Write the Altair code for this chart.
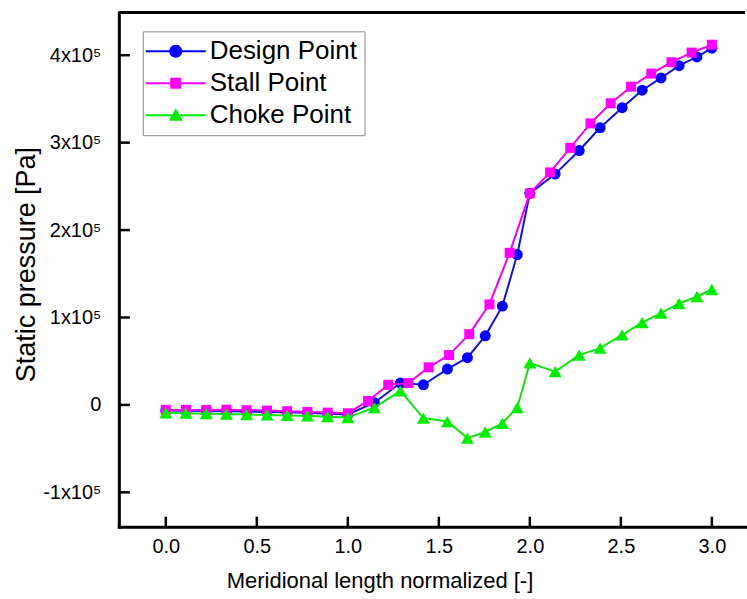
import altair as alt
import pandas as pd

FONT = "Liberation Sans"

# Operating points, their colours and marker shapes
series_names = ["Design Point", "Stall Point", "Choke Point"]
series_colors = ["#0000ff", "#ff00ff", "#00ee00"]
line_colors = ["#1414cc", "#f000f0", "#14e014"]
series_shapes = ["circle", "square", "triangle-up"]
series_sizes = [121, 100, 170]

# Normalized meridional position and static pressure [Pa]
design_x = [0.0, 0.111, 0.222, 0.333, 0.444, 0.556, 0.667, 0.778, 0.889, 1.0,
            1.146, 1.289, 1.415, 1.547, 1.657, 1.755, 1.849, 1.931, 2.0,
            2.139, 2.271, 2.386, 2.507, 2.617, 2.721, 2.820, 2.918, 3.0]
design_p = [-6500, -6700, -7000, -7200, -7500, -8000, -8500, -9000, -10000, -11000,
            2500, 25000, 23000, 41000, 54000, 79000, 113000, 172000, 242000,
            264000, 291000, 317000, 340000, 360000, 374000, 388000, 398000, 408000]

stall_x = [0.0, 0.111, 0.222, 0.333, 0.444, 0.556, 0.667, 0.778, 0.889, 1.0,
           1.111, 1.222, 1.333, 1.444, 1.556, 1.667, 1.778, 1.889, 2.0,
           2.111, 2.222, 2.333, 2.444, 2.556, 2.667, 2.778, 2.889, 3.0]
stall_p = [-5700, -5700, -5800, -5500, -6000, -6500, -7200, -8000, -8800, -9500,
           4500, 23000, 25000, 43000, 57000, 81000, 115000, 174000, 242000,
           266000, 294000, 322000, 345000, 364000, 379000, 392000, 403000, 412000]

choke_x = [0.0, 0.111, 0.222, 0.333, 0.444, 0.556, 0.667, 0.778, 0.889, 1.0,
           1.146, 1.289, 1.415, 1.547, 1.657, 1.755, 1.849, 1.931, 2.0,
           2.139, 2.271, 2.386, 2.507, 2.617, 2.721, 2.820, 2.918, 3.0]
choke_p = [-9000, -9500, -10000, -10500, -11000, -11500, -12000, -12500, -13500, -14500,
           -3000, 16000, -15000, -19000, -38000, -31000, -21000, -3000, 48000,
           38000, 57000, 65000, 80000, 94000, 105000, 116000, 124000, 132000]

x_tick_vals = [0.0, 0.5, 1.0, 1.5, 2.0, 2.5, 3.0]
y_tick_vals = [-100000, 0, 100000, 200000, 300000, 400000]

# Legend glyphs: a short line with the marker on it (path units are pixels at symbolSize 4)
legend_paths = [
    "M-17,-1H43V1H-17Z M19.5,0A6.5,6.5,0,1,1,6.5,0A6.5,6.5,0,1,1,19.5,0Z",
    "M-17,-1H43V1H-17Z M7.5,-5.5H18.5V5.5H7.5Z",
    "M-17,-1H43V1H-17Z M13,-7L20,5.5L6,5.5Z",
]

W, H = 627, 515
X_DOMAIN = [-0.258, 3.182]
Y_DOMAIN = [-139300, 449000]

rows = []
for name, xs, ps in zip(series_names, [design_x, stall_x, choke_x],
                        [design_p, stall_p, choke_p]):
    rows += [{"series": name, "x": a, "p": b} for a, b in zip(xs, ps)]
df = pd.DataFrame(rows)

x_scale = alt.Scale(domain=X_DOMAIN, nice=False, zero=False)
y_scale = alt.Scale(domain=Y_DOMAIN, nice=False, zero=False)

x_axis = alt.Axis(
    values=x_tick_vals, format=".1f", ticks=False, tickSize=0, grid=False,
    domainColor="black", domainWidth=3, domainCap="square",
    labelFont=FONT, labelFontSize=20, labelColor="black", labelPadding=10,
    labelOverlap=False, labelFlush=False,
    title="Meridional length normalized [-]", titleFont=FONT, titleFontSize=22,
    titleFontWeight="normal", titleColor="black",
    titleX=261, titleY=61, titleAlign="center", titleBaseline="alphabetic",
)
y_axis = alt.Axis(
    values=y_tick_vals, ticks=False, tickSize=0, grid=False,
    domainColor="black", domainWidth=3, domainCap="square",
    labelExpr="datum.value == 0 ? '0' : round(datum.value / 100000) + 'x10\u2075'",
    labelFont=FONT, labelFontSize=20, labelColor="black", labelPadding=18,
    labelOverlap=False, labelFlush=False,
    title="Static pressure [Pa]", titleFont=FONT, titleFontSize=27,
    titleFontWeight="normal", titleColor="black",
    titleX=-92, titleY=252, titleAlign="center", titleBaseline="middle",
)


def xenc(field):
    return alt.X(field, scale=x_scale, axis=x_axis)


def yenc(field):
    return alt.Y(field, scale=y_scale, axis=y_axis)


layers = []
for name, col, lcol, shp, sz in zip(series_names, series_colors, line_colors,
                                    series_shapes, series_sizes):
    base = alt.Chart(df).transform_filter(alt.datum.series == name)
    layers.append(base.mark_line(color=lcol, strokeWidth=2).encode(x=xenc("x:Q"), y=yenc("p:Q")))
    layers.append(
        base.mark_point(filled=True, shape=shp, size=sz, color=col,
                        opacity=1, strokeWidth=0).encode(x=xenc("x:Q"), y=yenc("p:Q"))
    )

legend_def = alt.Legend(
    title=None, orient="none", legendX=24, legendY=19, direction="vertical",
    symbolSize=4, symbolStrokeWidth=0, symbolOpacity=1,
    labelFont=FONT, labelFontSize=26, labelColor="black", labelOffset=34,
    labelLimit=400, padding=7, rowPadding=6,
    strokeColor="#8c8c8c", fillColor="white",
)

# Legend-only layer: no rows survive the filter, the entries come from the scale domain
legend_layer = (
    alt.Chart(df)
    .transform_filter("datum.p < -1e12")
    .mark_point(filled=True, opacity=1)
    .encode(
        x=xenc("x:Q"),
        y=yenc("p:Q"),
        color=alt.Color("series:N", scale=alt.Scale(domain=series_names, range=series_colors),
                        legend=legend_def),
        shape=alt.Shape("series:N", scale=alt.Scale(domain=series_names, range=legend_paths),
                        legend=legend_def),
    )
)

# Inward-pointing ticks and the top edge of the frame
x_ticks = alt.Chart(pd.DataFrame({"x": x_tick_vals})).mark_rule(
    color="black", strokeWidth=2.5
).encode(x=xenc("x:Q"), y=alt.value(H), y2=alt.value(H - 10))

y_ticks = alt.Chart(pd.DataFrame({"p": y_tick_vals})).mark_rule(
    color="black", strokeWidth=2.5
).encode(y=yenc("p:Q"), x=alt.value(0), x2=alt.value(11))

top_edge = alt.Chart(pd.DataFrame({"edge": ["top"]})).mark_rule(
    color="black", strokeWidth=3
).encode(x=alt.value(0), x2=alt.value(W), y=alt.value(0))

chart = (
    alt.layer(*layers, legend_layer, x_ticks, y_ticks, top_edge)
    .properties(width=W, height=H,
                padding={"left": 13, "top": 10, "right": 0, "bottom": 2},
                background="white")
    .configure_view(stroke=None)
)

chart.save("out.html", embed_options={"renderer": "svg", "actions": False})
